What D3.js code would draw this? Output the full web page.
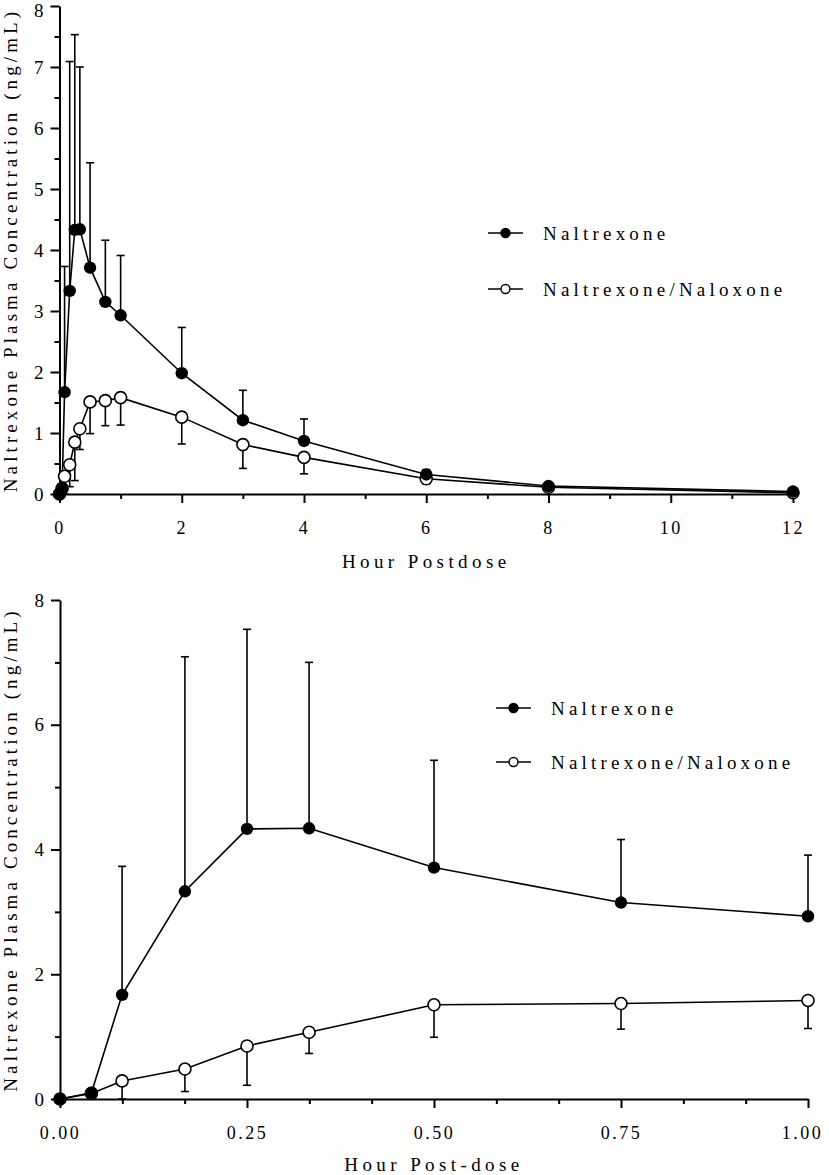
<!DOCTYPE html>
<html>
<head>
<meta charset="utf-8">
<script src="https://cdn.jsdelivr.net/npm/d3@7"></script>
<style>
  html, body { margin: 0; padding: 0; background: #fff; }
  svg { display: block; }
  svg text { font-family: "Liberation Serif", Tinos, "Times New Roman", Times, "DejaVu Serif", serif; fill: #000; }
</style>
</head>
<body>
<svg id="chart" width="829" height="1175"></svg>
<script>
// ---- Data ----
const timesHour = [0, 0.042, 0.083, 0.167, 0.25, 0.333, 0.5, 0.75, 1, 2, 3, 4, 6, 8, 12];
const naltrexoneMean = [0, 0.10, 1.67, 3.33, 4.33, 4.34, 3.71, 3.15, 2.93, 1.98, 1.21, 0.87, 0.32, 0.13, 0.04];
const naltrexoneSD   = [0, 0.02, 2.06, 3.76, 3.20, 2.66, 1.72, 1.01, 0.98, 0.75, 0.49, 0.36, 0.08, 0.03, 0.01];
const comboMean = [0, 0.09, 0.29, 0.48, 0.85, 1.07, 1.51, 1.53, 1.58, 1.26, 0.81, 0.60, 0.25, 0.11, 0.02];
const comboSD   = [0, 0.04, 0.29, 0.36, 0.63, 0.34, 0.52, 0.41, 0.45, 0.44, 0.39, 0.27, 0.08, 0.03, 0.01];
const seriesNames = ["Naltrexone", "Naltrexone/Naloxone"];

const topXMajor = [0, 2, 4, 6, 8, 10, 12];
const topXMinor = [1, 3, 5, 7, 9, 11];
const topYMajor = [0, 1, 2, 3, 4, 5, 6, 7, 8];
const topYMinor = [0.5, 1.5, 2.5, 3.5, 4.5, 5.5, 6.5, 7.5];
const botXMajor = [0, 0.25, 0.5, 0.75, 1.0];
const botXMinor = [1/12, 2/12, 4/12, 5/12, 7/12, 8/12, 10/12, 11/12];
const botYMajor = [0, 2, 4, 6, 8];
const botYMinor = [1, 3, 5, 7];
const yTitle = "Naltrexone Plasma Concentration (ng/mL)";
const topXTitle = "Hour Postdose";
const botXTitle = "Hour Post-dose";

const FONT = '"Liberation Serif", Tinos, "Times New Roman", Times, "DejaVu Serif", serif';

// ---- Build rows ----
const rows = timesHour.map((t, i) => ({
  t,
  a: naltrexoneMean[i], aSD: naltrexoneSD[i],
  b: comboMean[i], bSD: comboSD[i]
}));

const svg = d3.select("#chart");

function drawPanel(cfg) {
  const x = d3.scaleLinear().domain(cfg.xDomain).range(cfg.xRange);
  const y = d3.scaleLinear().domain([0, 8]).range(cfg.yRange);
  const g = svg.append("g");
  const data = rows.filter(d => d.t <= cfg.xDomain[1] + 1e-9);

  const axisStyle = sel => {
    sel.attr("font-family", FONT);
    sel.select(".domain").attr("stroke", "#000").attr("stroke-width", 2);
    sel.selectAll(".tick line").attr("stroke", "#000").attr("stroke-width", 2);
    sel.selectAll(".tick text")
      .style("font-family", FONT)
      .style("font-size", "18px").attr("fill", "#000");
  };
  const x0 = cfg.yRange[0];
  const xMaj = g.append("g").attr("transform", `translate(0,${x0})`)
    .call(d3.axisBottom(x).tickValues(cfg.xMajor).tickSize(9).tickSizeOuter(0)
      .tickPadding(18).tickFormat(cfg.xFmt));
  axisStyle(xMaj);
  xMaj.selectAll(".tick text").style("letter-spacing", "2.5px");
  // keep the rightmost label inside the picture
  xMaj.selectAll(".tick text").filter(d => x(d) > 800).attr("dx", "-6");
  const xMin = g.append("g").attr("transform", `translate(0,${x0})`)
    .call(d3.axisBottom(x).tickValues(cfg.xMinor).tickSize(5).tickSizeOuter(0).tickFormat(""));
  axisStyle(xMin);
  xMin.select(".domain").remove();

  const yMaj = g.append("g").attr("transform", `translate(${cfg.xRange[0]},0)`)
    .call(d3.axisLeft(y).tickValues(cfg.yMajor).tickSize(9).tickSizeOuter(0)
      .tickPadding(7).tickFormat(d3.format("d")));
  axisStyle(yMaj);
  yMaj.selectAll(".tick text").style("font-size", "19px");
  // keep the topmost label inside the picture
  yMaj.selectAll(".tick text").filter(d => y(d) < 10).attr("dy", "0.55em");
  const yMin = g.append("g").attr("transform", `translate(${cfg.xRange[0]},0)`)
    .call(d3.axisLeft(y).tickValues(cfg.yMinor).tickSize(5).tickSizeOuter(0).tickFormat(""));
  axisStyle(yMin);
  yMin.select(".domain").remove();

  // titles
  g.append("text")
    .attr("x", (cfg.xRange[0] + cfg.xRange[1]) / 2)
    .attr("y", cfg.xTitleY)
    .attr("text-anchor", "middle")
    .style("font-size", "19px").style("letter-spacing", "4.4px")
    .text(cfg.xTitle);
  g.append("text")
    .attr("transform", `translate(17,${(cfg.yRange[0] + cfg.yRange[1]) / 2}) rotate(-90)`)
    .attr("text-anchor", "middle")
    .style("font-size", "19px").style("letter-spacing", "4.1px")
    .text(yTitle);

  // error bars
  const cap = 4;
  const errA = g.append("g").attr("stroke", "#000").attr("stroke-width", 1.6).attr("fill", "none");
  data.filter(d => d.aSD > 0).forEach(d => {
    const xx = x(d.t), y1 = y(d.a), y2 = y(d.a + d.aSD);
    errA.append("line").attr("x1", xx).attr("x2", xx).attr("y1", y1).attr("y2", y2);
    errA.append("line").attr("x1", xx - cap).attr("x2", xx + cap).attr("y1", y2).attr("y2", y2);
  });
  const errB = g.append("g").attr("stroke", "#000").attr("stroke-width", 1.6).attr("fill", "none");
  data.filter(d => d.bSD > 0).forEach(d => {
    const xx = x(d.t), y1 = y(d.b), y2 = y(Math.max(0, d.b - d.bSD));
    errB.append("line").attr("x1", xx).attr("x2", xx).attr("y1", y1).attr("y2", y2);
    errB.append("line").attr("x1", xx - cap).attr("x2", xx + cap).attr("y1", y2).attr("y2", y2);
  });

  // lines
  const lineA = d3.line().x(d => x(d.t)).y(d => y(d.a));
  const lineB = d3.line().x(d => x(d.t)).y(d => y(d.b));
  g.append("path").datum(data).attr("d", lineB).attr("fill", "none").attr("stroke", "#000").attr("stroke-width", 1.6);
  g.append("path").datum(data).attr("d", lineA).attr("fill", "none").attr("stroke", "#000").attr("stroke-width", 1.6);

  // markers
  g.append("g").selectAll("circle").data(data).join("circle")
    .attr("cx", d => x(d.t)).attr("cy", d => y(d.b)).attr("r", 6)
    .attr("fill", "#fff").attr("stroke", "#000").attr("stroke-width", 1.6);
  g.append("g").selectAll("circle").data(data).join("circle")
    .attr("cx", d => x(d.t)).attr("cy", d => y(d.a)).attr("r", 6.2)
    .attr("fill", "#000");

  // legend
  const lg = g.append("g");
  seriesNames.forEach((name, i) => {
    const ly = cfg.legendY[i];
    lg.append("line").attr("x1", cfg.legendX).attr("x2", cfg.legendX + 35)
      .attr("y1", ly).attr("y2", ly).attr("stroke", "#000").attr("stroke-width", 1.6);
    lg.append("circle").attr("cx", cfg.legendX + 17.5).attr("cy", ly).attr("r", 4.5)
      .attr("fill", i === 0 ? "#000" : "#fff").attr("stroke", "#000").attr("stroke-width", 1.4);
    lg.append("text").attr("x", cfg.legendX + 55).attr("y", ly)
      .attr("dy", "0.35em")
      .style("font-size", "19px").style("letter-spacing", "4.2px")
      .text(name);
  });
}

drawPanel({
  xDomain: [0, 12], xRange: [59.5, 793], yRange: [494, 6],
  xMajor: topXMajor, xMinor: topXMinor, yMajor: topYMajor, yMinor: topYMinor,
  xFmt: d3.format("d"), xTitle: topXTitle, xTitleY: 568,
  legendX: 488, legendY: [233, 289]
});
drawPanel({
  xDomain: [0, 1], xRange: [60, 808], yRange: [1099, 600],
  xMajor: botXMajor, xMinor: botXMinor, yMajor: botYMajor, yMinor: botYMinor,
  xFmt: d3.format(".2f"), xTitle: botXTitle, xTitleY: 1171,
  legendX: 496, legendY: [708, 762]
});
</script>
</body>
</html>
